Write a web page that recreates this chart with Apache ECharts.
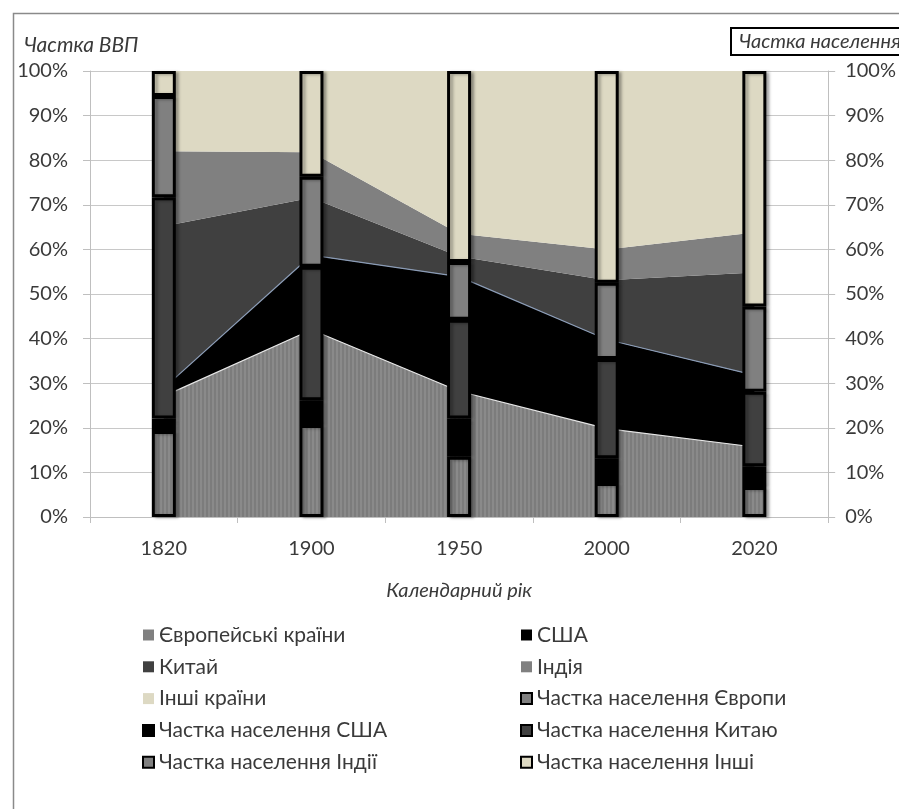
<!DOCTYPE html>
<html>
<head>
<meta charset="utf-8">
<script src="https://cdn.jsdelivr.net/npm/echarts@6/dist/echarts.min.js"></script>
<style>
  html, body { margin: 0; padding: 0; background: #fff; }
  #chart { width: 899px; height: 809px; }
</style>
</head>
<body>
<div id="chart"></div>
<script>
// Years on the category axis
const years = ['1820', '1900', '1950', '2000', '2020'];

// Share of world GDP, % (stacked areas, bottom to top)
const gdpEurope = [27.1, 42.0, 28.2, 19.8, 15.7];
const gdpUSA    = [1.8, 16.7, 25.7, 20.0, 16.1];
const gdpChina  = [36.3, 12.9, 4.5, 13.3, 23.0];
const gdpIndia  = [16.8, 10.2, 5.1, 6.9, 9.0];
const gdpOther  = [18.0, 18.2, 36.5, 40.0, 36.2];

// Share of world population, % (stacked columns, bottom to top)
const popEurope = [19.3, 20.6, 13.5, 7.6, 6.7];
const popUSA    = [2.8, 5.6, 8.6, 5.6, 4.7];
const popChina  = [49.6, 29.9, 22.1, 22.2, 16.7];
const popIndia  = [22.7, 20.2, 13.0, 17.1, 19.1];
const popOther  = [5.6, 23.7, 42.8, 47.5, 52.8];

// Axis tick labels
const pctTicks = [0, 10, 20, 30, 40, 50, 60, 70, 80, 90, 100];

const FONT = 'Lato, "Open Sans", sans-serif';
const TEXT = '#3a3a3a';
const BEIGE = '#ddd9c3';
const GREY = '#808080';
const DARK = '#404040';

// Fine vertical hatching used for Europe
function stripes() {
  const c = document.createElement('canvas');
  c.width = 4; c.height = 4;
  const g = c.getContext('2d');
  g.fillStyle = '#8a8a8a'; g.fillRect(0, 0, 4, 4);
  g.fillStyle = '#7c7c7c'; g.fillRect(2, 0, 2, 4);
  return { image: c, repeat: 'repeat' };
}
const hatch = stripes();

function area(name, data, color, line) {
  return {
    name, type: 'line', stack: 'gdp', data,
    symbol: 'none', z: 1,
    lineStyle: line ? { color: line, width: 1.2 } : { width: 0 },
    areaStyle: { color, opacity: 1 },
    itemStyle: { color: typeof color === 'string' ? color : GREY }
  };
}
function column(name, data, color) {
  return {
    name, type: 'bar', stack: 'pop', yAxisIndex: 1, data,
    barWidth: 24, z: 5,
    itemStyle: {
      color, borderColor: '#000', borderWidth: 3,
      shadowColor: 'rgba(0,0,0,0.3)', shadowBlur: 3, shadowOffsetX: 3, shadowOffsetY: 1
    }
  };
}

const chart = echarts.init(document.getElementById('chart'), null, { renderer: 'canvas' });

const legendText = { fontFamily: FONT, fontSize: 21, color: TEXT, lineHeight: 22 };
const popIcon = c => ({ color: c, borderColor: '#000', borderWidth: 2 });

chart.setOption({
  animation: false,
  backgroundColor: '#fff',
  textStyle: { fontFamily: FONT },
  graphic: [
    { type: 'rect', shape: { x: 13.5, y: 13.5, width: 1000, height: 1000 },
      style: { fill: 'none', stroke: '#8a8a8a', lineWidth: 1.5 }, z: 100 }
  ],
  title: [
    { text: 'Частка ВВП', left: 24, top: 35, padding: 0,
      textStyle: { fontFamily: FONT, fontSize: 21, fontStyle: 'italic', fontWeight: 'normal', color: TEXT } },
    { text: 'Частка населення', left: 731, top: 28, padding: [4, 30, 3, 8],
      borderColor: '#000', borderWidth: 2,
      textStyle: { fontFamily: FONT, fontSize: 20, fontStyle: 'italic', fontWeight: 'normal', color: TEXT } }
  ],
  grid: { left: 90, right: 66, top: 71, bottom: 292 },
  legend: [
    { orient: 'vertical', left: 137, top: 619, itemWidth: 11, itemHeight: 11, itemGap: 9.8,
      icon: 'rect', textStyle: legendText, selectedMode: false,
      data: [
        { name: 'Європейські країни', itemStyle: { color: GREY } },
        { name: 'Китай' },
        { name: 'Інші країни' },
        { name: 'Частка населення США', itemStyle: popIcon('#000') },
        { name: 'Частка населення Індії', itemStyle: popIcon(GREY) }
      ] },
    { orient: 'vertical', left: 515, top: 619, itemWidth: 11, itemHeight: 11, itemGap: 9.8,
      icon: 'rect', textStyle: legendText, selectedMode: false,
      data: [
        { name: 'США' },
        { name: 'Індія' },
        { name: 'Частка населення Європи', itemStyle: popIcon(GREY) },
        { name: 'Частка населення Китаю', itemStyle: popIcon(DARK) },
        { name: 'Частка населення Інші', itemStyle: popIcon(BEIGE) }
      ] }
  ],
  xAxis: {
    type: 'category', data: years, boundaryGap: true,
    name: 'Календарний рік', nameLocation: 'middle', nameGap: 64,
    nameTextStyle: { fontFamily: FONT, fontSize: 20, fontStyle: 'italic', color: TEXT },
    axisLine: { lineStyle: { color: '#bfbfbf', width: 1 } },
    axisTick: { show: true, length: 6, lineStyle: { color: '#bfbfbf' } },
    axisLabel: { fontFamily: FONT, fontSize: 20, color: TEXT, margin: 22 }
  },
  yAxis: [
    { type: 'value', min: pctTicks[0], max: pctTicks[pctTicks.length - 1], interval: 10,
      axisLine: { show: true, lineStyle: { color: '#bfbfbf' } },
      axisTick: { show: true, length: 7, lineStyle: { color: '#bfbfbf' } },
      splitLine: { show: true, lineStyle: { color: '#c8c8c8' } },
      axisLabel: { fontFamily: FONT, fontSize: 20, color: TEXT, margin: 22, formatter: '{value}%' } },
    { type: 'value', min: pctTicks[0], max: pctTicks[pctTicks.length - 1], interval: 10, position: 'right',
      axisLine: { show: true, lineStyle: { color: '#bfbfbf' } },
      axisTick: { show: true, length: 7, lineStyle: { color: '#bfbfbf' } },
      splitLine: { show: false },
      axisLabel: { fontFamily: FONT, fontSize: 20, color: TEXT, margin: 17, formatter: '{value}%' } }
  ],
  series: [
    area('Європейські країни', gdpEurope, hatch, '#e6e6e6'),
    area('США', gdpUSA, '#000000', '#8a9bb5'),
    area('Китай', gdpChina, DARK, null),
    area('Індія', gdpIndia, GREY, null),
    area('Інші країни', gdpOther, BEIGE, null),
    column('Частка населення Європи', popEurope, hatch),
    column('Частка населення США', popUSA, '#000000'),
    column('Частка населення Китаю', popChina, DARK),
    column('Частка населення Індії', popIndia, GREY),
    column('Частка населення Інші', popOther, BEIGE)
  ]
});
</script>
</body>
</html>
